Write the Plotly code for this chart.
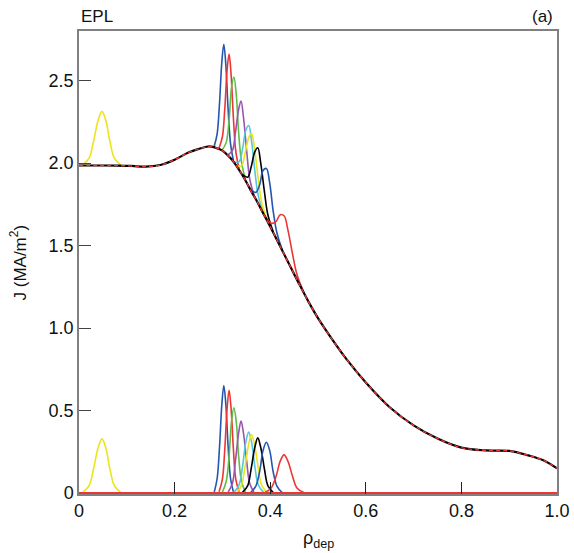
import plotly.graph_objects as go

# background current profile J(rho)
rho_base = [0.0, 0.04, 0.08, 0.11, 0.14, 0.17, 0.20, 0.23, 0.25, 0.27, 0.28, 0.29,
            0.30, 0.31, 0.32, 0.33, 0.34, 0.35, 0.36, 0.37, 0.38, 0.39, 0.40, 0.42,
            0.44, 0.46, 0.48, 0.50, 0.53, 0.56, 0.60, 0.65, 0.70, 0.75, 0.80, 0.85,
            0.90, 0.94, 0.97, 1.0]
j_base = [1.985, 1.985, 1.984, 1.982, 1.978, 1.988, 2.02, 2.065, 2.085, 2.10, 2.098, 2.088,
          2.075, 2.05, 2.02, 1.98, 1.935, 1.885, 1.83, 1.78, 1.725, 1.67, 1.615, 1.50,
          1.385, 1.27, 1.16, 1.06, 0.93, 0.81, 0.67, 0.52, 0.41, 0.33, 0.275, 0.258,
          0.255, 0.228, 0.20, 0.15]

# driven current for each deposition location: rho, driven only, total
rho_y0 = [0.008, 0.021, 0.030, 0.040, 0.048, 0.056, 0.065, 0.074, 0.087]
jd_y0 = [0.004, 0.044, 0.141, 0.274, 0.328, 0.274, 0.141, 0.044, 0.004]
jt_y0 = [1.989, 2.029, 2.126, 2.259, 2.313, 2.259, 2.126, 2.029, 1.988]

rho_b1 = [0.283, 0.289, 0.294, 0.299, 0.303, 0.307, 0.312, 0.317, 0.323]
jd_b1 = [0.007, 0.088, 0.280, 0.544, 0.652, 0.544, 0.280, 0.088, 0.007]
jt_b1 = [2.103, 2.177, 2.363, 2.620, 2.720, 2.602, 2.324, 2.117, 2.015]

rho_r1 = [0.293, 0.300, 0.305, 0.310, 0.314, 0.318, 0.323, 0.328, 0.335]
jd_r1 = [0.007, 0.084, 0.267, 0.519, 0.622, 0.519, 0.267, 0.084, 0.007]
jt_r1 = [2.091, 2.159, 2.330, 2.569, 2.660, 2.545, 2.275, 2.072, 1.965]

rho_g = [0.300, 0.308, 0.314, 0.319, 0.324, 0.329, 0.334, 0.340, 0.348]
jd_g = [0.006, 0.070, 0.222, 0.432, 0.517, 0.432, 0.222, 0.070, 0.006]
jt_g = [2.081, 2.125, 2.260, 2.455, 2.521, 2.416, 2.184, 2.005, 1.901]

rho_p = [0.312, 0.321, 0.327, 0.334, 0.339, 0.344, 0.351, 0.357, 0.366]
jd_p = [0.005, 0.059, 0.187, 0.364, 0.436, 0.364, 0.187, 0.059, 0.005]
jt_p = [2.049, 2.076, 2.179, 2.326, 2.376, 2.279, 2.067, 1.906, 1.805]

rho_c = [0.324, 0.335, 0.342, 0.349, 0.355, 0.361, 0.368, 0.375, 0.386]
jd_c = [0.004, 0.050, 0.159, 0.308, 0.369, 0.308, 0.159, 0.050, 0.004]
jt_c = [2.008, 2.008, 2.084, 2.198, 2.227, 2.133, 1.949, 1.802, 1.696]

rho_y1 = [0.330, 0.340, 0.347, 0.355, 0.361, 0.367, 0.375, 0.382, 0.393]
jd_y1 = [0.004, 0.048, 0.153, 0.296, 0.355, 0.296, 0.153, 0.048, 0.004]
jt_y1 = [1.984, 1.983, 2.053, 2.154, 2.180, 2.091, 1.905, 1.762, 1.658]

rho_k = [0.342, 0.353, 0.360, 0.368, 0.374, 0.380, 0.388, 0.395, 0.406]
jd_k = [0.004, 0.045, 0.144, 0.279, 0.334, 0.279, 0.144, 0.045, 0.004]
jt_k = [1.929, 1.914, 1.974, 2.069, 2.092, 2.004, 1.825, 1.688, 1.585]

rho_b2 = [0.359, 0.370, 0.378, 0.385, 0.392, 0.399, 0.406, 0.414, 0.425]
jd_b2 = [0.003, 0.042, 0.132, 0.257, 0.308, 0.257, 0.132, 0.042, 0.003]
jt_b2 = [1.839, 1.822, 1.868, 1.955, 1.967, 1.878, 1.713, 1.577, 1.475]

rho_r2 = [0.389, 0.402, 0.412, 0.421, 0.429, 0.437, 0.447, 0.456, 0.470]
jd_r2 = [0.003, 0.031, 0.099, 0.193, 0.231, 0.193, 0.099, 0.031, 0.003]
jt_r2 = [1.679, 1.635, 1.645, 1.687, 1.680, 1.595, 1.444, 1.324, 1.218]

rho_edges = [0.0, 1.0]
j_zero = [0.0, 0.0]

BLUE = "#2456ad"
RED = "#ee3535"
GREEN = "#62bb48"
PURPLE = "#9a55ad"
CYAN = "#52c8dc"
YELLOW = "#ece41c"
BLACK = "#000000"

runs = [
    (rho_y0, jd_y0, jt_y0, YELLOW),
    (rho_b1, jd_b1, jt_b1, BLUE),
    (rho_r1, jd_r1, jt_r1, RED),
    (rho_g, jd_g, jt_g, GREEN),
    (rho_p, jd_p, jt_p, PURPLE),
    (rho_c, jd_c, jt_c, CYAN),
    (rho_y1, jd_y1, jt_y1, YELLOW),
    (rho_k, jd_k, jt_k, BLACK),
    (rho_b2, jd_b2, jt_b2, BLUE),
    (rho_r2, jd_r2, jt_r2, RED),
]

fig = go.Figure()

for rho, jd, jt, color in runs:
    fig.add_trace(go.Scatter(x=rho, y=jt, mode="lines", line=dict(color=color, width=1.6, shape="spline"),
                             showlegend=False, hoverinfo="skip"))
    fig.add_trace(go.Scatter(x=rho, y=jd, mode="lines", line=dict(color=color, width=1.6, shape="spline"),
                             showlegend=False, hoverinfo="skip"))

fig.add_trace(go.Scatter(x=rho_edges, y=j_zero, mode="lines", line=dict(color=RED, width=2),
                         showlegend=False, hoverinfo="skip"))
fig.add_trace(go.Scatter(x=rho_base, y=j_base, mode="lines", line=dict(color=BLACK, width=2.2, shape="spline"),
                         showlegend=False, hoverinfo="skip"))
fig.add_trace(go.Scatter(x=rho_base, y=j_base, mode="lines",
                         line=dict(color=RED, width=1.4, shape="spline", dash="4px,3px"),
                         showlegend=False, hoverinfo="skip"))

font = "Liberation Sans, Arial, Helvetica, sans-serif"

fig.update_xaxes(
    range=[0, 1], tickvals=[0, 0.2, 0.4, 0.6, 0.8, 1.0],
    ticktext=["0", "0.2", "0.4", "0.6", "0.8", "1.0"],
    ticks="inside", ticklen=12, tickwidth=1, tickcolor="#222",
    showline=True, linecolor="#808080", linewidth=1.5, mirror=True, automargin=False,
    showgrid=False, zeroline=False, tickfont=dict(size=18, color="#111", family=font),
)
fig.update_yaxes(
    range=[-0.006, 2.8], tickvals=[0, 0.5, 1.0, 1.5, 2.0, 2.5],
    ticktext=["0", "0.5", "1.0", "1.5", "2.0", "2.5"],
    ticks="inside", ticklen=12, tickwidth=1, tickcolor="#444",
    showline=True, linecolor="#808080", linewidth=1.5, mirror=True, automargin=False,
    showgrid=False, zeroline=False, tickfont=dict(size=18, color="#111", family=font),
)

fig.update_layout(
    width=574, height=553, autosize=False,
    margin=dict(l=79, r=17, t=31, b=59),
    plot_bgcolor="white", paper_bgcolor="white",
    font=dict(family=font, color="#111"),
    annotations=[
        dict(text="EPL", xref="paper", yref="paper", x=0, y=1, xanchor="left", yanchor="bottom",
             yshift=3, showarrow=False, font=dict(size=17)),
        dict(text="(a)", xref="paper", yref="paper", x=1, y=1, xanchor="right", yanchor="bottom",
             xshift=-2, yshift=3, showarrow=False, font=dict(size=17)),
        dict(text="ρ<sub>dep</sub>", xref="paper", yref="paper", x=0.5, y=0, xanchor="center",
             yanchor="top", yshift=-32, showarrow=False, font=dict(size=18)),
        dict(text="J (MA/m<sup>2</sup>)", xref="paper", yref="paper", x=0, y=0.5, xanchor="center",
             yanchor="middle", xshift=-61, textangle=-90, showarrow=False, font=dict(size=17)),
    ],
)

# keep the fixed-size figure flush with the window corner
fig.write_html("out.html", config={"displayModeBar": False},
               post_script="document.body.style.margin='0';document.body.style.overflow='hidden';")
